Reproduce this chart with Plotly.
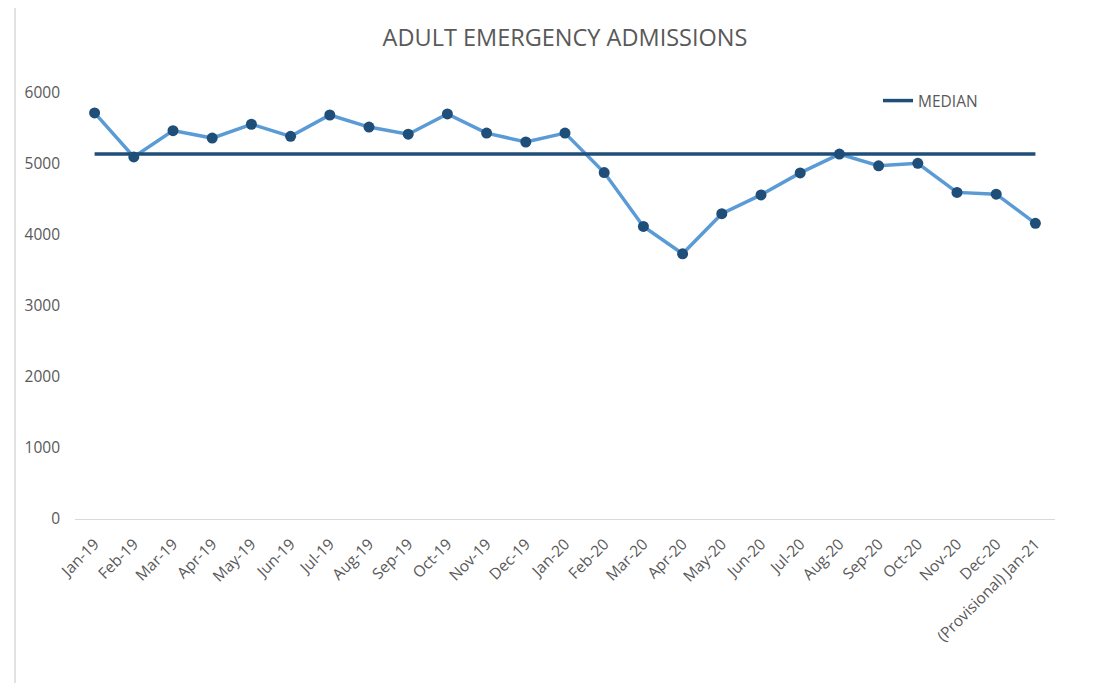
import plotly.graph_objects as go

# ---- data ----
months = ["Jan-19", "Feb-19", "Mar-19", "Apr-19", "May-19", "Jun-19", "Jul-19", "Aug-19",
          "Sep-19", "Oct-19", "Nov-19", "Dec-19", "Jan-20", "Feb-20", "Mar-20", "Apr-20",
          "May-20", "Jun-20", "Jul-20", "Aug-20", "Sep-20", "Oct-20", "Nov-20", "Dec-20",
          "(Provisional) Jan-21"]
admissions = [5720, 5100, 5470, 5365, 5560, 5390, 5690, 5520,
              5420, 5705, 5435, 5310, 5435, 4880, 4120, 3735,
              4300, 4565, 4875, 5140, 4975, 5010, 4600, 4575,
              4165]
median_value = 5140
median_series = [median_value] * len(months)
y_ticks = [0, 1000, 2000, 3000, 4000, 5000, 6000]

# page body has an 8px default margin; coordinates below are screen pixels
OFF = 8
W, H = 1102 - OFF, 683 - OFF
L, T = 75 - OFF, 93 - OFF
R = W - (1055 - OFF)
B = H - (519 - OFF)
pw = W - L - R
ph = H - T - B

def px_x(x):
    return (x - OFF - L) / pw

def px_y(y):
    return (H - B - (y - OFF)) / ph

FONT = "Open Sans"
GREY = "#595959"

fig = go.Figure()

fig.add_trace(go.Scatter(
    x=months, y=admissions, mode="lines+markers", name="ADMISSIONS",
    line=dict(color="#5B9BD5", width=3.5),
    marker=dict(color="#1F4E79", size=11),
    showlegend=False,
))
fig.add_trace(go.Scatter(
    x=months, y=median_series, mode="lines", name="MEDIAN",
    line=dict(color="#1F4E79", width=3.5),
    showlegend=True,
))

fig.update_layout(
    width=W, height=H,
    margin=dict(l=L, r=R, t=T, b=B),
    paper_bgcolor="white", plot_bgcolor="white",
    font=dict(family=FONT, color=GREY, size=15),
    title=dict(text="ADULT EMERGENCY ADMISSIONS", x=0.5, xref="paper", xanchor="center",
               y=1 - (38 - OFF) / H, yref="container", yanchor="middle",
               font=dict(family=FONT, size=23.5, color=GREY)),
    showlegend=True,
    legend=dict(x=px_x(878), y=px_y(101), xanchor="left", yanchor="middle",
                bgcolor="rgba(0,0,0,0)", font=dict(size=15.5, color=GREY, family=FONT)),
    xaxis=dict(type="category", range=[-0.5, len(months) - 0.5],
               showline=True, linecolor="#D9D9D9", linewidth=1,
               showgrid=False, zeroline=False, ticks="",
               tickangle=-45, tickfont=dict(size=15.5, color=GREY, family=FONT),
               ticklabelstandoff=9),
    yaxis=dict(range=[0, 6000], tickvals=y_ticks,
               showline=False, showgrid=False, zeroline=False, ticks="",
               tickfont=dict(size=15.5, color=GREY, family=FONT),
               ticklabelstandoff=14),
    shapes=[dict(type="rect", xref="paper", yref="paper",
                 x0=px_x(15), x1=px_x(1130), y0=px_y(720), y1=px_y(4),
                 line=dict(color="#D9D9D9", width=1.5), fillcolor="rgba(0,0,0,0)",
                 layer="below")],
)

fig.write_html("out.html")
